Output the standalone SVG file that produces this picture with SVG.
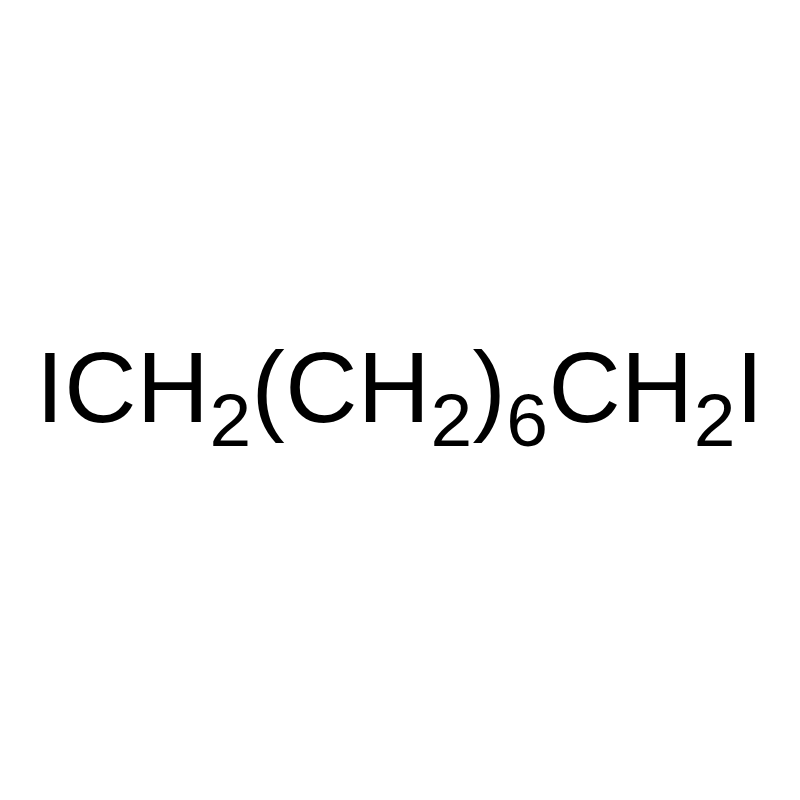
<svg xmlns="http://www.w3.org/2000/svg" width="800" height="800" viewBox="0 0 800 800">
<style>
.f{font-family:"Liberation Sans",Arial,sans-serif;font-size:100px;fill:#000;letter-spacing:0.4px}
.s{font-size:75px}
</style>
<rect width="800" height="800" fill="#fff"/>
<g id="formula">
<text class="f" x="36" y="422">ICH<tspan class="s" dy="24">2</tspan><tspan dy="-24">(CH</tspan><tspan class="s" dy="24">2</tspan><tspan dy="-24">)</tspan><tspan class="s" dy="24">6</tspan><tspan dy="-24">CH</tspan><tspan class="s" dy="24">2</tspan><tspan dy="-24">I</tspan></text>
</g>
</svg>
